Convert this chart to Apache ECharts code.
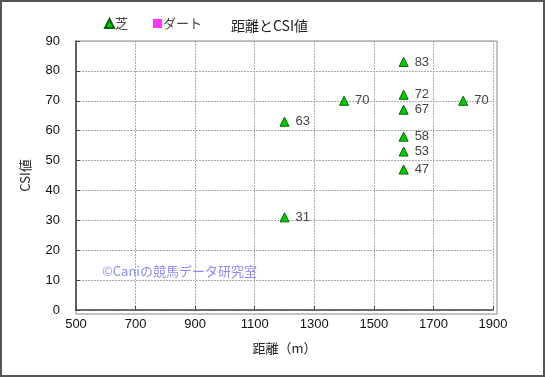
<!DOCTYPE html>
<html><head><meta charset="utf-8">
<script src="https://cdn.jsdelivr.net/npm/echarts@6/dist/echarts.min.js"></script>
<style>html,body{margin:0;padding:0;background:#fff}#c{width:545px;height:377px;box-sizing:border-box;border:2px solid #555}</style>
</head><body><div id="c"></div>
<script>
const title = '距離とCSI値';
const xName = '距離（m）';
const yName = 'CSI値';
const turfDist = [1200, 1200, 1400, 1600, 1600, 1600, 1600, 1600, 1600, 1800];
const turfCSI  = [63, 31, 70, 83, 72, 67, 58, 53, 47, 70];
const dirtDist = [];
const dirtCSI = [];
const xTicks = [500, 700, 900, 1100, 1300, 1500, 1700, 1900];
const yTicks = [0, 10, 20, 30, 40, 50, 60, 70, 80, 90];

const font = '"Noto Sans CJK JP", "Liberation Sans", sans-serif';
const chart = echarts.init(document.getElementById('c'));
chart.setOption({
  animation: false,
  backgroundColor: '#fff',
  textStyle: {fontFamily: font},
  title: {text: title, left: 224, top: 12, textStyle: {fontSize: 14, fontWeight: 'normal', color: '#222', fontFamily: font}},
  legend: {left: 97, top: 10, itemGap: 25, itemWidth: 9, itemHeight: 9, textStyle: {fontSize: 13, color: '#444', fontFamily: font, padding: [0,0,0,-4]},
    data: [{name: '芝', icon: 'triangle'}, {name: 'ダート', icon: 'rect'}]},
  grid: {left: 74, right: 50, top: 39, bottom: 65},
  xAxis: {type: 'value', min: 500, max: 1900, interval: 200, name: xName, nameLocation: 'middle', nameGap: 32,
    nameTextStyle: {fontSize: 13, color: '#222'},
    axisLine: {show: true, lineStyle: {color: '#444', width: 1.5}},
    axisTick: {show: true, inside: true, length: 4, lineStyle: {color: '#444'}},
    axisLabel: {fontSize: 13, color: '#111', margin: 8, fontFamily: '"Liberation Sans", sans-serif', formatter: v => String(v)},
    splitLine: {show: true, lineStyle: {color: '#aaa', type: [2, 1]}}},
  yAxis: {type: 'value', min: 0, max: 90, interval: 10, name: yName, nameLocation: 'middle', nameGap: 44,
    nameTextStyle: {fontSize: 13, color: '#222'},
    axisLine: {show: true, lineStyle: {color: '#444', width: 1.5}},
    axisTick: {show: true, inside: true, length: 4, lineStyle: {color: '#444'}},
    axisLabel: {fontSize: 13, color: '#111', margin: 16, fontFamily: '"Liberation Sans", sans-serif'},
    splitLine: {show: true, lineStyle: {color: '#aaa', type: [2, 1]}}},
  graphic: [
    {type: 'rect', shape: {x: 74, y: 39, width: 421, height: 273}, style: {fill: 'none', stroke: '#888', lineWidth: 1}, silent: true, z: 0},
    {type: 'text', left: 100, top: 263, style: {text: '©Caniの競馬データ研究室', fill: '#8c8cf0', font: '13px ' + font}}
  ],
  series: [
    {name: '芝', type: 'scatter', symbol: 'triangle', symbolSize: 9,
      itemStyle: {color: '#00cc00', borderColor: '#006600', borderWidth: 1, opacity: 1},
      label: {show: true, position: 'right', distance: 6, fontSize: 13, color: '#444', formatter: p => p.value[1], fontFamily: '"Liberation Sans", sans-serif'},
      data: turfDist.map((d, i) => [d, turfCSI[i]])},
    {name: 'ダート', type: 'scatter', symbol: 'rect', symbolSize: 9,
      itemStyle: {color: '#ff00ff'},
      data: dirtDist.map((d, i) => [d, dirtCSI[i]])}
  ]
});
</script></body></html>
